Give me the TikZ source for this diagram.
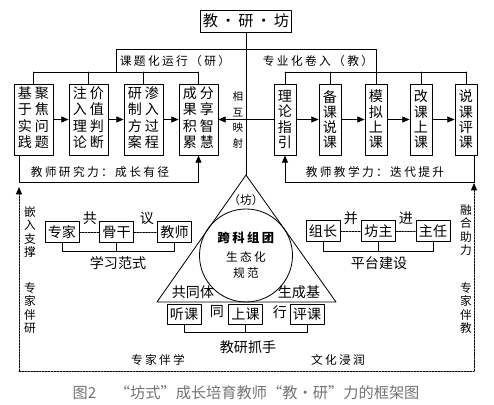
\documentclass[tikz,border=0pt]{standalone}
\usepackage{fontspec}
\setmainfont{Noto Sans CJK SC}
\newfontfamily\kai[LetterSpace=20]{Noto Sans CJK SC}
\usetikzlibrary{arrows.meta,calc}

\tikzset{
  kuang/.style={draw, line width=0.7pt, inner sep=0pt, font=\fontsize{12}{13}\selectfont},
  dakuang/.style={kuang, minimum width=1.17cm, minimum height=2.13cm},
  zhaikuang/.style={kuang, minimum width=0.66cm, minimum height=2.13cm},
  xiaokuang/.style={kuang, minimum width=1.02cm, minimum height=0.62cm},
  jiantou/.style={line width=0.7pt, -{Triangle[length=2.2mm,width=1.8mm]}},
  xuxian/.style={line width=0.7pt, dash pattern=on 1.5pt off 1pt},
  biaoqian/.style={inner sep=0pt, font=\kai\fontsize{10}{12}\selectfont},
  shubiao/.style={inner sep=0pt, align=center, font=\kai\fontsize{10}{11.4}\selectfont},
  zuming/.style={inner sep=0pt, font=\fontsize{12}{14}\selectfont},
}

\begin{document}
\begin{tikzpicture}[x=0.03cm,y=-0.03cm,line cap=round,line join=round]
\useasboundingbox (0,0) rectangle (494,405);

% top
\node[kuang, font=\fontsize{13}{15}\selectfont, inner sep=2pt, minimum height=0.66cm] (jyf) at (246,21) {教\,·\,研\,·\,坊};
\coordinate (ding) at (246,175);
\coordinate (zuo) at (157,302);
\coordinate (you) at (336,302);
\draw[line width=0.7pt] (jyf) -- (ding);

% left chain
\node[dakuang] (y1) at (33.5,119.5) {\begin{tabular}{@{}c@{\hspace{2.5pt}}c@{}}基&聚\\于&焦\\实&问\\践&题\end{tabular}};
\node[dakuang] (y2) at (88.5,119.5) {\begin{tabular}{@{}c@{\hspace{2.5pt}}c@{}}注&价\\入&值\\理&判\\论&断\end{tabular}};
\node[dakuang] (y3) at (143.5,119.5) {\begin{tabular}{@{}c@{\hspace{2.5pt}}c@{}}研&渗\\制&入\\方&过\\案&程\end{tabular}};
\node[dakuang] (y4) at (198.5,119.5) {\begin{tabular}{@{}c@{\hspace{2.5pt}}c@{}}成&分\\果&享\\积&智\\累&慧\end{tabular}};

% right chain
\node[zhaikuang, align=center] (j1) at (285,119.5) {理\\论\\指\\引};
\node[zhaikuang, align=center] (j2) at (330,119.5) {备\\课\\说\\课};
\node[zhaikuang, align=center] (j3) at (376,119.5) {模\\拟\\上\\课};
\node[zhaikuang, align=center] (j4) at (421,119.5) {改\\课\\上\\课};
\node[zhaikuang, align=center] (j5) at (466,119.5) {说\\课\\评\\课};

\foreach \a/\b in {y1/y2,y2/y3,y3/y4,j1/j2,j2/j3,j3/j4,j4/j5}
  \draw[jiantou] (\a) -- (\b);
\draw[jiantou, {Triangle[length=2.2mm,width=1.8mm]}-] (y4) -- (j1);

% brackets on top
\foreach \n in {y1,y2,y3,y4,j1,j2,j3,j4,j5}
  \draw[line width=0.7pt] (\n.north) -- (\n.north |- 0,72);
\draw[line width=0.7pt] (y1.north |- 0,72) -- (y4.north |- 0,72);
\draw[line width=0.7pt] (j1.north |- 0,72) -- (j5.north |- 0,72);
\coordinate (yan) at (116,72);
\draw[line width=0.7pt] (yan) |- (j3.north |- 0,49) -- (j3.north |- 0,72);

\node[biaoqian] (ktyx) at (175,61) {课题化运行（研）};
\node[biaoqian] (zyjr) at (318,61) {专业化卷入（教）};
\node[shubiao, font=\kai\fontsize{9}{13.6}\selectfont] (hxys) at (238,120) {相\\互\\映\\射};

% feedback
\coordinate (fbl) at (19,182);
\coordinate (fbr) at (474,182);
\draw[jiantou] (y1.south -| fbl) -- (fbl) -| (y4.south);
\draw[jiantou] (j5.south -| fbr) -- (fbr) -| (j1.south);
\node[biaoqian] (yjl) at (100,172) {教师研究力：成长有径};
\node[biaoqian] (jxl) at (375,172) {教师教学力：迭代提升};

% dashed frame
\coordinate (xzs) at (19,371);
\coordinate (xys) at (474,371);
\coordinate (xzd) at (19,187);
\coordinate (xyd) at (474,183);
\draw[xuxian] (xzs) -- (xys);
\draw[xuxian, -{Triangle[length=2.2mm,width=1.8mm]}] (xzs) -- (xzd);
\draw[xuxian, -{Triangle[length=2.2mm,width=1.8mm]}] (xys) -- (xyd);
\node[shubiao] at (30,232) {嵌\\入\\支\\撑};
\node[shubiao] at (30,308) {专\\家\\伴\\研};
\node[shubiao] at (466,230) {融\\合\\助\\力};
\node[shubiao] at (466,308) {专\\家\\伴\\教};
\node[biaoqian] at (158,360) {专家伴学};
\node[biaoqian] at (338,360) {文化浸润};

% left group
\node[xiaokuang] (zj) at (62,232) {专家};
\node[xiaokuang] (gg) at (116.5,232) {骨干};
\node[xiaokuang] (js) at (174.5,232) {教师};
\draw[xuxian] (zj) -- (gg);
\draw[xuxian] (gg) -- (js);
\node[zuming] at (90,218) {共};
\node[zuming] at (147,218) {议};
\draw[line width=0.7pt] (zj.south) -- ++(0,9) -| (js.south);
\draw[line width=0.7pt] (gg.south) -- ++(0,9);
\node[zuming] (xxfs) at (118,263) {学习范式};

% right group
\node[xiaokuang] (zz) at (323,231) {组长};
\node[xiaokuang] (fz) at (378.5,231) {坊主};
\node[xiaokuang] (zr) at (433,231) {主任};
\draw[xuxian] (zz) -- (fz);
\draw[xuxian] (fz) -- (zr);
\node[zuming] at (351,218) {并};
\node[zuming] at (406,218) {进};
\draw[line width=0.7pt] (zz.south) -- ++(0,10) -| (zr.south);
\draw[line width=0.7pt] (fz.south) -- ++(0,10);
\node[zuming] (ptjs) at (379,263) {平台建设};

% triangle
\draw[line width=0.7pt] (ding) -- (zuo) -- (you) -- cycle;
\draw[line width=0.7pt] (246,255.5) circle[radius=1.395cm];
\node[inner sep=0pt, font=\fontsize{10}{12}\selectfont] at (246,200) {（坊）};
\node[inner sep=0pt, font=\kai\bfseries\fontsize{10.5}{12}\selectfont] (kkzt) at (246,238) {跨科组团};
\node[shubiao, font=\kai\fontsize{10}{13.6}\selectfont] at (246,265) {生态化\\规范};
\node[zuming] at (193,292) {共同体};
\node[zuming] at (299,292) {生成基};
\node[xiaokuang, minimum height=0.6cm] (tk) at (184,314) {听课};
\node[xiaokuang, minimum height=0.6cm] (sk) at (245.5,314) {上课};
\node[xiaokuang, minimum height=0.6cm] (pk) at (307,314) {评课};
\node[zuming] at (217,312) {同};
\node[zuming] at (280,312) {行};
\draw[line width=0.7pt] (tk.south) -- ++(0,8) -| (pk.south);
\draw[line width=0.7pt] (sk.south) -- ++(0,8);
\node[zuming] (yjzs) at (248,347) {教研抓手};

% caption
\node[inner sep=0pt, text=black!55, font=\fontsize{13}{15}\selectfont] (tu) at (246,393) {图2\quad\ “坊式”成长培育教师“教·研”力的框架图};
\end{tikzpicture}
\end{document}
